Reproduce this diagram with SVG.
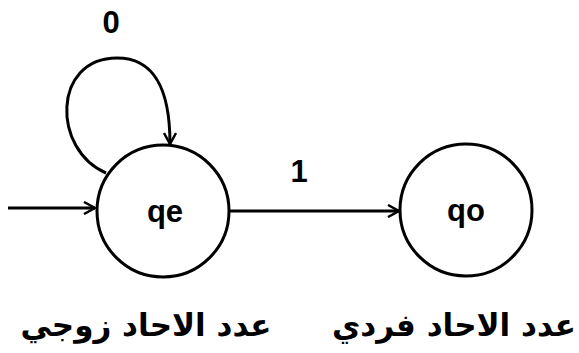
<svg xmlns="http://www.w3.org/2000/svg" width="579" height="353" viewBox="0 0 579 353">
<defs>
<marker id="arr" markerWidth="14" markerHeight="14" refX="12" refY="7" orient="auto" markerUnits="userSpaceOnUse">
<path d="M1,1 L12,7 L1,13" fill="none" stroke="#000" stroke-width="2.5"/>
</marker>
<style>
.node{fill:#fff;stroke:#000;stroke-width:3}
.edge{fill:none;stroke:#000;stroke-width:3}
.lbl{font-family:"Liberation Sans",Arial,sans-serif;font-weight:bold;font-size:31px;fill:#000;text-anchor:middle}
.ar{font-family:"DejaVu Sans","Noto Sans",sans-serif;font-weight:bold;font-size:31px;fill:#000}
</style>
</defs>
<g id="connectors">
<line class="edge" x1="8" y1="208" x2="95" y2="208" marker-end="url(#arr)"/>
<line class="edge" x1="229" y1="211" x2="399" y2="211" marker-end="url(#arr)"/>
<path class="edge" d="M106,173 C52,150 52,58 117,58 C155,58 170,90 170,144" marker-end="url(#arr)"/>
<text class="lbl" x="111" y="33">0</text>
<text class="lbl" x="299" y="182">1</text>
</g>
<g id="qe">
<circle class="node" cx="163" cy="211" r="66"/>
<text class="lbl" x="165" y="222">qe</text>
</g>
<g id="qo">
<circle class="node" cx="466" cy="210" r="66"/>
<text class="lbl" x="466" y="221">qo</text>
</g>
<g id="captions">
<text class="ar" x="146" y="336" text-anchor="middle" direction="rtl">عدد الاحاد زوجي</text>
<text class="ar" x="454" y="336" text-anchor="middle" direction="rtl">عدد الاحاد فردي</text>
</g>
</svg>
